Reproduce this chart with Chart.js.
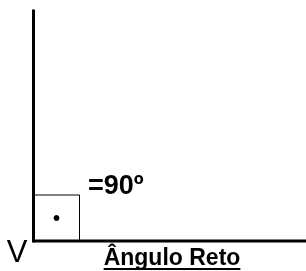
<!DOCTYPE html>
<html>
<head>
<meta charset="utf-8">
<script src="https://cdn.jsdelivr.net/npm/chart.js@4.4.0/dist/chart.umd.min.js"></script>
<style>
  html, body { margin: 0; padding: 0; background: #fff; }
  #c { display: block; }
</style>
</head>
<body>
<canvas id="c" width="306" height="271"></canvas>
<script>
// vértice na origem, lados do ângulo (unidades = px)
const vertex = [0, 0];
const armVertical = [[0, 0], [0, 230]];
const armHorizontal = [[0, 0], [272.5, 0]];
// quadradinho que marca o ângulo reto
const squareMark = [[0, 46], [46, 46], [46, 0]];
const dotMark = [[23, 23]];

// textos
const vertexLabel = 'V';
const angleLabel = '=90º';
const titleLabel = 'Ângulo Reto';

const toPts = arr => arr.map(p => ({ x: p[0], y: p[1] }));

// desenha os textos usando as escalas do gráfico
const textPlugin = {
    id: 'textos',
    afterDatasetsDraw(chart) {
        const { ctx, scales: { x, y } } = chart;
        ctx.save();
        ctx.fillStyle = '#000';

        // V
        ctx.font = '31px "Liberation Sans", Arial, sans-serif';
        ctx.textAlign = 'center';
        ctx.textBaseline = 'alphabetic';
        ctx.fillText(vertexLabel, x.getPixelForValue(vertex[0] - 16.5), y.getPixelForValue(vertex[1] - 21));

        // =90º
        ctx.font = 'bold 27px "Liberation Sans", Arial, sans-serif';
        ctx.textAlign = 'left';
        ctx.fillText(angleLabel, x.getPixelForValue(54.5), y.getPixelForValue(47));

        // Ângulo Reto sublinhado
        ctx.font = 'bold 23px "Liberation Sans", Arial, sans-serif';
        ctx.textAlign = 'center';
        const cx = x.getPixelForValue(138.5);
        const by = y.getPixelForValue(-24);
        ctx.fillText(titleLabel, cx, by);
        const w = ctx.measureText(titleLabel).width;
        ctx.fillRect(cx - w / 2, by + 3, w, 2);

        ctx.restore();
    }
};

const chart = new Chart(document.getElementById('c'), {
    type: 'scatter',
    data: {
        datasets: [
            {
                data: toPts(armVertical),
                showLine: true,
                borderColor: '#000',
                borderWidth: 3,
                pointRadius: 0,
                borderCapStyle: 'square'
            },
            {
                data: toPts(armHorizontal),
                showLine: true,
                borderColor: '#000',
                borderWidth: 3,
                pointRadius: 0
            },
            {
                data: toPts(squareMark),
                showLine: true,
                borderColor: '#000',
                borderWidth: 1,
                pointRadius: 0
            },
            {
                data: toPts(dotMark),
                backgroundColor: '#000',
                borderColor: '#000',
                pointRadius: 2.5
            }
        ]
    },
    options: {
        responsive: false,
        animation: false,
        clip: false,
        layout: { padding: 0, autoPadding: false },
        plugins: { legend: { display: false }, tooltip: { enabled: false } },
        scales: {
            x: { type: 'linear', min: -33.5, max: 272.5, display: false },
            y: { type: 'linear', min: -30, max: 241, display: false }
        }
    },
    plugins: [textPlugin]
});
</script>
</body>
</html>
